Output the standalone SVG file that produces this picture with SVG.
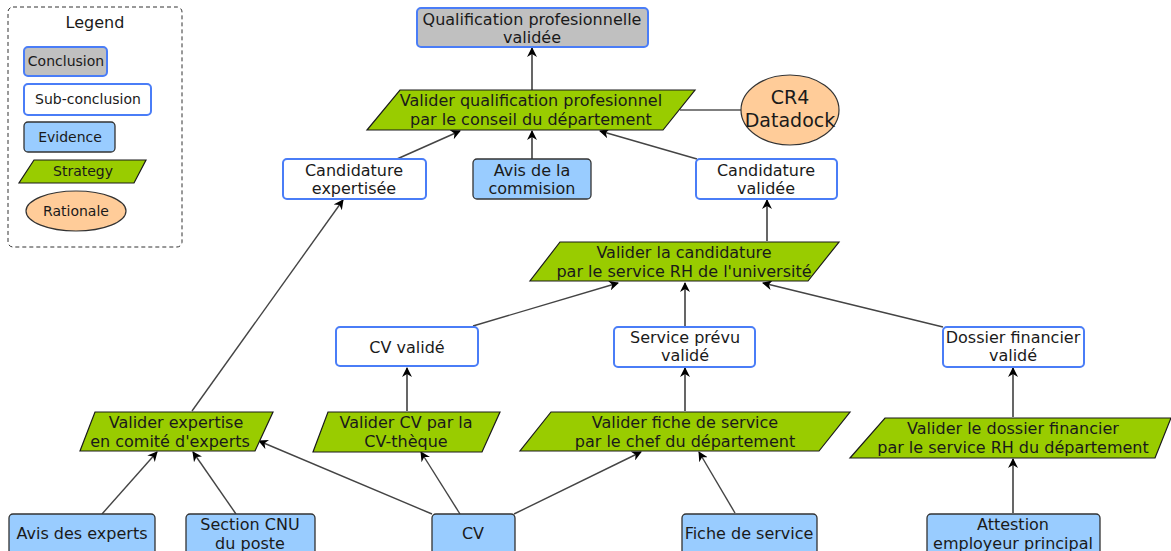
<svg xmlns="http://www.w3.org/2000/svg" width="1171" height="551" viewBox="0 0 1171 551">
<defs>
<style>
text{font-family:"DejaVu Sans",sans-serif;font-size:16px;fill:#1a1a1a;text-anchor:middle}
.lg{font-size:14px}
.concl{fill:#c0c0c0;stroke:#4a7df7;stroke-width:2}
.sub{fill:#ffffff;stroke:#4a7df7;stroke-width:2}
.ev{fill:#99ccff;stroke:#333333;stroke-width:1.3}
.st{fill:#99cc00;stroke:#1a1a1a;stroke-width:1.2}
.ra{fill:#ffcc99;stroke:#333333;stroke-width:1.2}
.c{stroke:#444;stroke-width:1.4;fill:none;marker-end:url(#ah)}
.cb{stroke:#000;stroke-width:1.2;fill:none;marker-end:url(#ah)}
</style>
<marker id="ah" viewBox="0 0 10 10" refX="9" refY="5" markerWidth="10" markerHeight="10" markerUnits="userSpaceOnUse" orient="auto">
<path d="M0,0 L10,5 L0,10 L3,5 z" fill="#000"/>
</marker>
</defs>
<rect width="1171" height="551" fill="#fff"/>

<g id="legend">
<rect x="8" y="7" width="174" height="240" rx="5" fill="none" stroke="#333" stroke-width="1" stroke-dasharray="4,3"/>
<text x="95" y="28">Legend</text>
<rect class="concl" x="24" y="47" width="83" height="29" rx="4"/>
<text class="lg" x="66" y="66">Conclusion</text>
<rect class="sub" x="24" y="84" width="127" height="31" rx="4"/>
<text class="lg" x="88" y="104">Sub-conclusion</text>
<rect class="ev" x="24" y="122" width="91" height="30" rx="4"/>
<text class="lg" x="70" y="142">Evidence</text>
<polygon class="st" points="34,160 146,160 134,183 19,183"/>
<text class="lg" x="83" y="176">Strategy</text>
<ellipse class="ra" cx="76" cy="211" rx="50" ry="20"/>
<text class="lg" x="76" y="216">Rationale</text>
</g>

<g id="connectors">
<line class="cb" x1="532" y1="90" x2="532" y2="48"/>
<line x1="680" y1="110" x2="741" y2="110" stroke="#000" stroke-width="1.2"/>
<line class="c" x1="397" y1="159" x2="460" y2="131"/>
<line class="cb" x1="532" y1="159" x2="532" y2="131"/>
<line class="c" x1="697" y1="159" x2="600" y2="131"/>
<line class="cb" x1="767" y1="241" x2="767" y2="200"/>
<line class="c" x1="473" y1="326" x2="618" y2="283"/>
<line class="cb" x1="685" y1="327" x2="685" y2="283"/>
<line class="c" x1="943" y1="327" x2="763" y2="283"/>
<line class="cb" x1="407" y1="411" x2="407" y2="368"/>
<line class="cb" x1="685" y1="411" x2="685" y2="368"/>
<line class="cb" x1="1013" y1="417" x2="1013" y2="368"/>
<line class="c" x1="192" y1="411" x2="343" y2="200"/>
<line class="c" x1="102" y1="514" x2="157" y2="452"/>
<line class="c" x1="236" y1="514" x2="193" y2="452"/>
<line class="c" x1="432" y1="514" x2="259" y2="441"/>
<line class="c" x1="460" y1="514" x2="421" y2="452"/>
<line class="c" x1="514" y1="514" x2="641" y2="452"/>
<line class="c" x1="735" y1="513" x2="699" y2="452"/>
<line class="cb" x1="1013" y1="513" x2="1013" y2="459"/>
</g>

<g id="n_qualif">
<rect class="concl" x="417" y="8" width="231" height="39" rx="4"/>
<text x="532" y="25">Qualification profesionnelle</text>
<text x="532" y="43">validée</text>
</g>
<g id="s_conseil">
<polygon class="st" points="400,90 695,90 663,130 367,130"/>
<text x="531" y="106">Valider qualification profesionnel</text>
<text x="531" y="125">par le conseil du département</text>
</g>
<g id="r_cr4">
<ellipse class="ra" cx="790" cy="110" rx="49" ry="35"/>
<text x="790" y="104" style="font-size:19px">CR4</text>
<text x="790" y="127" style="font-size:19px">Datadock</text>
</g>
<g id="n_cand_exp">
<rect class="sub" x="283" y="159" width="143" height="40" rx="4"/>
<text x="354" y="176">Candidature</text>
<text x="354" y="194">expertisée</text>
</g>
<g id="e_avis_comm">
<rect class="ev" x="473" y="159" width="118" height="40" rx="4"/>
<text x="532" y="176">Avis de la</text>
<text x="532" y="194">commision</text>
</g>
<g id="n_cand_val">
<rect class="sub" x="696" y="159" width="141" height="40" rx="4"/>
<text x="766" y="176">Candidature</text>
<text x="766" y="194">validée</text>
</g>
<g id="s_rh_univ">
<polygon class="st" points="560,242 839,242 808,281 530,281"/>
<text x="684" y="258">Valider la candidature</text>
<text x="684" y="277">par le service RH de l'université</text>
</g>
<g id="n_cv_val">
<rect class="sub" x="336" y="327" width="142" height="39" rx="4"/>
<text x="407" y="353">CV validé</text>
</g>
<g id="n_service">
<rect class="sub" x="614" y="327" width="141" height="40" rx="4"/>
<text x="685" y="343">Service prévu</text>
<text x="685" y="361">validé</text>
</g>
<g id="n_dossier">
<rect class="sub" x="943" y="327" width="141" height="40" rx="4"/>
<text x="1013" y="343">Dossier financier</text>
<text x="1013" y="361">validé</text>
</g>
<g id="s_expertise">
<polygon class="st" points="95,412 273,412 255,451 80,451"/>
<text x="176" y="428">Valider expertise</text>
<text x="170" y="447">en comité d'experts</text>
</g>
<g id="s_cvtheque">
<polygon class="st" points="328,412 500,412 482,452 313,452"/>
<text x="406" y="428">Valider CV par la</text>
<text x="406" y="447">CV-thèque</text>
</g>
<g id="s_fiche">
<polygon class="st" points="551,412 850,412 819,451 520,451"/>
<text x="685" y="428">Valider fiche de service</text>
<text x="685" y="447">par le chef du département</text>
</g>
<g id="s_dossier">
<polygon class="st" points="885,418 1171,418 1155,458 850,458"/>
<text x="1013" y="434">Valider le dossier financier</text>
<text x="1013" y="453">par le service RH du département</text>
</g>
<g id="e_avis_exp">
<rect class="ev" x="9" y="514" width="146" height="50" rx="4"/>
<text x="82" y="539">Avis des experts</text>
</g>
<g id="e_cnu">
<rect class="ev" x="186" y="514" width="129" height="50" rx="4"/>
<text x="250" y="530">Section CNU</text>
<text x="250" y="549">du poste</text>
</g>
<g id="e_cv">
<rect class="ev" x="432" y="514" width="83" height="50" rx="4"/>
<text x="473" y="539">CV</text>
</g>
<g id="e_fiche">
<rect class="ev" x="682" y="514" width="135" height="50" rx="4"/>
<text x="749" y="539">Fiche de service</text>
</g>
<g id="e_attest">
<rect class="ev" x="927" y="514" width="173" height="50" rx="4"/>
<text x="1013" y="530">Attestion</text>
<text x="1013" y="549">employeur principal</text>
</g>
</svg>
